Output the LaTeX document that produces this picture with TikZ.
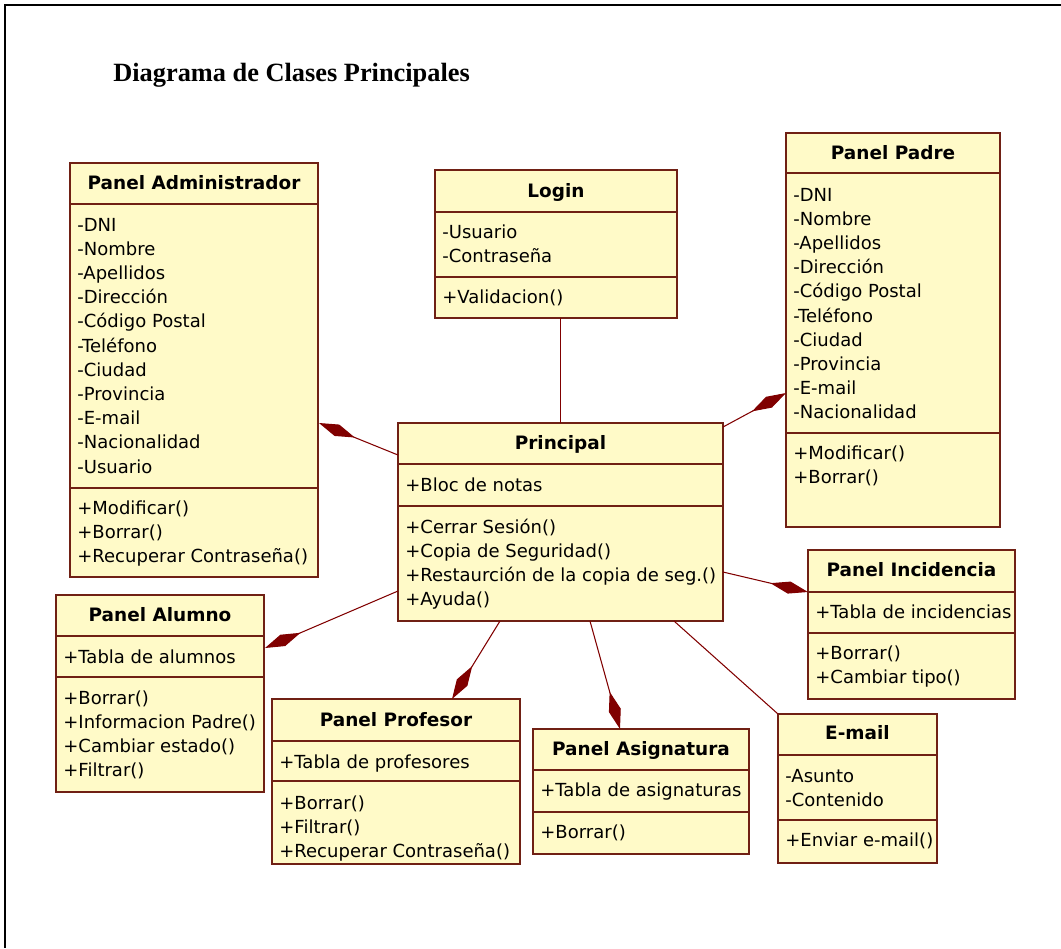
\documentclass[tikz,border=0pt]{standalone}
\usepackage{fontspec}
\setmainfont{DejaVu Sans}
\newfontfamily\titlefont{Liberation Serif}
\usetikzlibrary{arrows.meta,calc}
\definecolor{UMLline}{RGB}{128,0,0}
\definecolor{UMLborder}{RGB}{112,32,20}
\definecolor{UMLfill}{RGB}{255,250,200}

% one text line per member, 24px apart
\newcommand{\members}[4]{%
  \foreach \m [count=\i from 0] in {#4}
    \node (#1-#2\i) [member] at ($(#1.north west)+(7,#3+24.2*\i)$) {\m};}

\begin{document}
\begin{tikzpicture}[x=0.02cm, y=-0.02cm,
	every node/.style={font=\fontsize{10.25}{12}\selectfont},
	box/.style 2 args={draw=UMLborder, fill=UMLfill, line width=.7pt, anchor=north west,
		minimum width=#1*0.02cm, minimum height=#2*0.02cm, inner sep=0, outer sep=0},
	head/.style={anchor=base, inner sep=0, font=\fontsize{10.5}{12}\selectfont\bfseries},
	member/.style={anchor=base west, inner sep=0},
	sep/.style={draw=UMLborder, line width=.7pt},
	comp/.style={UMLline, line width=.6pt, -{Diamond[length=22pt, width=7pt, fill=UMLline]}},
	assoc/.style={UMLline, line width=.6pt}
	]
	\useasboundingbox (0,0) rectangle (1061,948);
	\draw [line width=1.1pt] (1061,5) -- (5,5) -- (5,948);

	\node (title) [anchor=base west, inner sep=0, font=\titlefont\fontsize{15}{18}\selectfont\bfseries] at (113,81) {Diagrama de Clases Principales};

	% Panel Administrador
	\node (adm) [box={248}{414}] at (70,163) {};
	\draw [sep] ($(adm.north west)+(0,41)$) -- ($(adm.north east)+(0,41)$);
	\draw [sep] ($(adm.north west)+(0,325)$) -- ($(adm.north east)+(0,325)$);
	\node (adm-h) [head] at ($(adm.north)+(0,26)$) {Panel Administrador};
	\members{adm}{a}{68}{-DNI,-Nombre,-Apellidos,-Dirección,-Código Postal,-Teléfono,-Ciudad,-Provincia,-E-mail,-Nacionalidad,-Usuario}
	\members{adm}{m}{351}{+Modificar(),+Borrar(),+Recuperar Contraseña()}

	% Login
	\node (login) [box={242}{148}] at (435,170) {};
	\draw [sep] ($(login.north west)+(0,42)$) -- ($(login.north east)+(0,42)$);
	\draw [sep] ($(login.north west)+(0,107)$) -- ($(login.north east)+(0,107)$);
	\node (login-h) [head] at ($(login.north)+(0,27)$) {Login};
	\members{login}{a}{68}{-Usuario,-Contraseña}
	\members{login}{m}{133}{+Validacion()}

	% Panel Padre
	\node (padre) [box={214}{394}] at (786,133) {};
	\draw [sep] ($(padre.north west)+(0,40)$) -- ($(padre.north east)+(0,40)$);
	\draw [sep] ($(padre.north west)+(0,300)$) -- ($(padre.north east)+(0,300)$);
	\node (padre-h) [head] at ($(padre.north)+(0,26)$) {Panel Padre};
	\members{padre}{a}{68}{-DNI,-Nombre,-Apellidos,-Dirección,-Código Postal,-Teléfono,-Ciudad,-Provincia,-E-mail,-Nacionalidad}
	\members{padre}{m}{326}{+Modificar(),+Borrar()}

	% Principal
	\node (princ) [box={325}{198}] at (398,423) {};
	\draw [sep] ($(princ.north west)+(0,41)$) -- ($(princ.north east)+(0,41)$);
	\draw [sep] ($(princ.north west)+(0,83)$) -- ($(princ.north east)+(0,83)$);
	\node (princ-h) [head] at ($(princ.north)+(0,26)$) {Principal};
	\members{princ}{a}{68}{+Bloc de notas}
	\members{princ}{m}{110}{+Cerrar Sesión(),+Copia de Seguridad(),+Restaurción de la copia de seg.(),+Ayuda()}

	% Panel Incidencia
	\node (incid) [box={207}{149}] at (808,550) {};
	\draw [sep] ($(incid.north west)+(0,42)$) -- ($(incid.north east)+(0,42)$);
	\draw [sep] ($(incid.north west)+(0,83)$) -- ($(incid.north east)+(0,83)$);
	\node (incid-h) [head] at ($(incid.north)+(0,26)$) {Panel Incidencia};
	\members{incid}{a}{68}{+Tabla de incidencias}
	\members{incid}{m}{109}{+Borrar(),+Cambiar tipo()}

	% Panel Alumno
	\node (alum) [box={208}{197}] at (56,595) {};
	\draw [sep] ($(alum.north west)+(0,41)$) -- ($(alum.north east)+(0,41)$);
	\draw [sep] ($(alum.north west)+(0,82)$) -- ($(alum.north east)+(0,82)$);
	\node (alum-h) [head] at ($(alum.north)+(0,26)$) {Panel Alumno};
	\members{alum}{a}{68}{+Tabla de alumnos}
	\members{alum}{m}{109}{+Borrar(),+Informacion Padre(),+Cambiar estado(),+Filtrar()}

	% Panel Profesor
	\node (prof) [box={248}{165}] at (272,699) {};
	\draw [sep] ($(prof.north west)+(0,42)$) -- ($(prof.north east)+(0,42)$);
	\draw [sep] ($(prof.north west)+(0,82)$) -- ($(prof.north east)+(0,82)$);
	\node (prof-h) [head] at ($(prof.north)+(0,27)$) {Panel Profesor};
	\members{prof}{a}{69}{+Tabla de profesores}
	\members{prof}{m}{110}{+Borrar(),+Filtrar(),+Recuperar Contraseña()}

	% Panel Asignatura
	\node (asig) [box={216}{125}] at (533,729) {};
	\draw [sep] ($(asig.north west)+(0,41)$) -- ($(asig.north east)+(0,41)$);
	\draw [sep] ($(asig.north west)+(0,83)$) -- ($(asig.north east)+(0,83)$);
	\node (asig-h) [head] at ($(asig.north)+(0,26)$) {Panel Asignatura};
	\members{asig}{a}{67}{+Tabla de asignaturas}
	\members{asig}{m}{109}{+Borrar()}

	% E-mail
	\node (email) [box={159}{149}] at (778,714) {};
	\draw [sep] ($(email.north west)+(0,41)$) -- ($(email.north east)+(0,41)$);
	\draw [sep] ($(email.north west)+(0,106)$) -- ($(email.north east)+(0,106)$);
	\node (email-h) [head] at ($(email.north)+(0,25)$) {E-mail};
	\members{email}{a}{68}{-Asunto,-Contenido}
	\members{email}{m}{132}{+Enviar e-mail()}

	% relations
	\draw [assoc] (princ.north) -- (princ.north |- login.south);
	\draw [comp] ($(princ.north west)+(0,32)$) -- ($(adm.north east)+(1,260)$);
	\draw [comp] ($(princ.north east)+(0,4)$) -- ($(padre.north west)+(0,260)$);
	\draw [comp] ($(princ.north east)+(0,149)$) -- ($(incid.north west)+(0,42)$);
	\draw [comp] ($(princ.north west)+(0,168)$) -- ($(alum.north east)+(1,53)$);
	\draw [comp] ($(princ.south west)+(102,0)$) -- ($(prof.north west)+(180,0)$);
	\draw [comp] ($(princ.south west)+(192,0)$) -- ($(asig.north west)+(87,0)$);
	\draw [assoc] ($(princ.south west)+(276,0)$) -- (email.north west);
\end{tikzpicture}
\end{document}
